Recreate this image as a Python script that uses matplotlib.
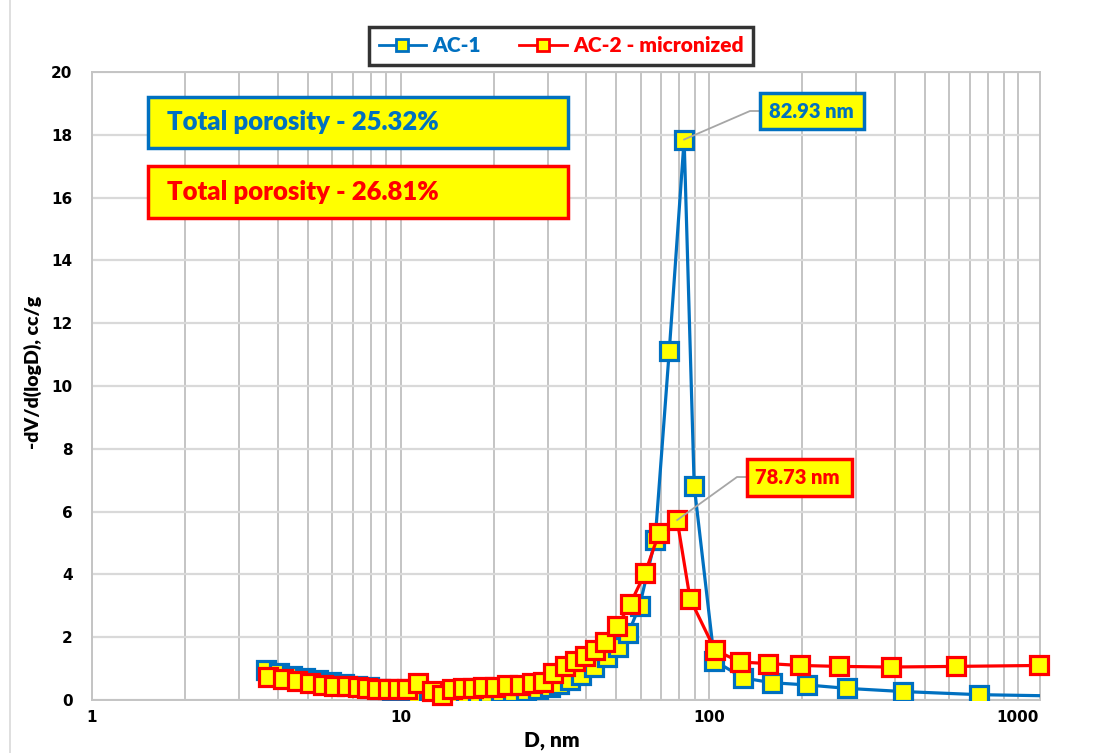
import matplotlib
matplotlib.use("Agg")
import matplotlib.pyplot as plt
from matplotlib.patches import Rectangle
from matplotlib.lines import Line2D
from matplotlib.ticker import FixedLocator, NullFormatter, LogLocator

# ---------------- data ----------------
ac1_d = [3.67, 4.05, 4.45, 4.9, 5.4, 5.95, 6.55, 7.2, 7.9, 8.6, 9.4, 10.3, 11.3, 12.4,
         13.6, 14.9, 16.3, 17.8, 19.4, 21.2, 23.2, 25.4, 27.8, 30.4, 32.5, 35.4, 38.5,
         42.2, 46.6, 50.7, 54.7, 59.5, 66.8, 74.2, 82.93, 89.4, 104, 129, 160, 207, 280,
         423, 747, 2000]
ac1_v = [0.96, 0.85, 0.76, 0.70, 0.63, 0.56, 0.50, 0.45, 0.40, 0.35, 0.29, 0.24, 0.19, 0.15,
         0.13, 0.14, 0.16, 0.18, 0.21, 0.24, 0.27, 0.30, 0.34, 0.40, 0.50, 0.64, 0.80,
         1.05, 1.37, 1.69, 2.13, 3.0, 5.1, 11.1, 17.85, 6.82, 1.25, 0.70, 0.55, 0.48, 0.37,
         0.27, 0.17, 0.10]

ac2_d = [3.72, 4.15, 4.6, 5.1, 5.6, 6.1, 6.7, 7.25, 7.8, 8.4, 9.1, 9.8, 10.5, 11.4, 12.6,
         13.6, 14.7, 15.9, 17.1, 18.5, 20.2, 22.2, 24.3, 26.6, 28.9, 31.2, 34.1, 36.7, 39.6,
         42.6, 45.9, 50.3, 55.4, 62.0, 68.8, 78.73, 86.7, 104.4, 126, 155, 197, 264, 387,
         629, 1170]
ac2_v = [0.72, 0.66, 0.60, 0.53, 0.48, 0.45, 0.43, 0.40, 0.38, 0.36, 0.35, 0.34, 0.36, 0.55,
         0.30, 0.16, 0.36, 0.38, 0.39, 0.40, 0.42, 0.47, 0.49, 0.53, 0.58, 0.85, 1.08, 1.25,
         1.40, 1.60, 1.85, 2.35, 3.05, 4.05, 5.32, 5.73, 3.22, 1.59, 1.21, 1.16, 1.10, 1.07,
         1.05, 1.07, 1.10]

series_names = ["AC-1", "AC-2 - micronized"]
porosity_labels = ["Total porosity - 25.32%", "Total porosity - 26.81%"]
peak_labels = ["82.93 nm", "78.73 nm"]
peak_points = [(82.93, 17.85), (78.73, 5.73)]
x_ticks = [1, 10, 100, 1000]
x_ticklabels = ["1", "10", "100", "1000"]
y_ticks = [0, 2, 4, 6, 8, 10, 12, 14, 16, 18, 20]

BLUE = "#0070C0"
RED = "#FF0000"
YEL = "#FFFF00"
NARROW = ["Lato", "DejaVu Sans"]
WT = "heavy"

W, H = 1104, 753
fig = plt.figure(figsize=(W / 100, H / 100), dpi=100)
fig.patch.set_facecolor("white")


def fx(px):
    return px / W


def fy(py):
    return 1 - py / H


ax = fig.add_axes([fx(92), fy(700), fx(1040) - fx(92), fy(72) - fy(700)])
ax.set_xscale("log")
ax.set_xlim(1, 1180)
ax.set_ylim(0, 20)

ax.xaxis.set_major_locator(FixedLocator(x_ticks))
ax.set_xticklabels(x_ticklabels)
ax.xaxis.set_minor_locator(LogLocator(base=10, subs=range(2, 10)))
ax.xaxis.set_minor_formatter(NullFormatter())
ax.set_yticks(y_ticks)

ax.grid(True, which="major", axis="x", color="#C4C4C4", lw=1.4, zorder=0)
ax.grid(True, which="minor", axis="x", color="#C4C4C4", lw=1.4, zorder=0)
ax.grid(True, which="major", axis="y", color="#D9D9D9", lw=1.6, zorder=0)
ax.set_axisbelow(True)

for s in ax.spines.values():
    s.set_color("#C4C4C4")
    s.set_linewidth(1.4)

ax.tick_params(axis="both", which="both", length=0)
ax.tick_params(axis="y", pad=14)
ax.tick_params(axis="x", pad=7)
for lab in ax.get_xticklabels() + ax.get_yticklabels():
    lab.set_fontweight("bold")
    lab.set_fontsize(11)
    lab.set_family("DejaVu Sans")

ms, mew, lw = 13.5, 2.3, 2.3
ax.plot(ac1_d, ac1_v, color=BLUE, lw=lw, marker="s", ms=ms, mfc=YEL, mec=BLUE, mew=mew,
        zorder=3, clip_on=True)
ax.plot(ac2_d, ac2_v, color=RED, lw=lw, marker="s", ms=ms, mfc=YEL, mec=RED, mew=mew,
        zorder=4, clip_on=False)

fig.text(fx(552), fy(741), "D, nm", ha="center", va="center",
         fontsize=15, fontweight=WT, family=NARROW)
fig.text(fx(33), fy(372), "-dV/d(logD), cc/g", rotation=90, ha="center", va="center",
         fontsize=14, fontweight=WT, family=NARROW)

# legend
h1 = Line2D([], [], color=BLUE, lw=2, marker="s", ms=8, mfc=YEL, mec=BLUE, mew=2)
h2 = Line2D([], [], color=RED, lw=2, marker="s", ms=8, mfc=YEL, mec=RED, mew=2)
leg = fig.legend([h1, h2], series_names, loc="center",
                 bbox_to_anchor=(fx(561), fy(46)), ncol=2, frameon=True, fancybox=False,
                 prop={"family": NARROW, "weight": WT, "size": 15},
                 handlelength=2.3, handletextpad=0.3, columnspacing=1.8,
                 borderpad=0.45, borderaxespad=0)
leg.get_frame().set_edgecolor("black")
leg.get_frame().set_linewidth(2.5)
for t, c in zip(leg.get_texts(), [BLUE, RED]):
    t.set_color(c)


# boxes
def fig_box(x0, y0, x1, y1, ec, text, tx, size, family):
    r = Rectangle((fx(x0), fy(y1)), fx(x1) - fx(x0), fy(y0) - fy(y1),
                  transform=fig.transFigure, facecolor=YEL, edgecolor=ec, lw=2.5, zorder=10)
    fig.patches.append(r)
    fig.text(fx(tx), fy((y0 + y1) / 2), text, ha="left", va="center", color=ec,
             fontsize=size, fontweight=WT, family=family, zorder=11)


fig_box(148, 97, 568, 148, BLUE, porosity_labels[0], 167, 18.5, NARROW)
fig_box(148, 166, 568, 218, RED, porosity_labels[1], 167, 18.5, NARROW)

fig_box(760, 93, 864, 129, BLUE, peak_labels[0], 769, 14.5, NARROW)
fig_box(747, 459, 852, 496, RED, peak_labels[1], 755, 14.5, NARROW)

# leader lines (data point -> box)
lead_targets = [((750, 111), (760, 111)), ((737, 477), (747, 477))]
for (pd, pv), (p1, p2) in zip(peak_points, lead_targets):
    x1, y1 = ax.transData.transform((pd, pv))
    xs = [x1 / W, fx(p1[0]), fx(p2[0])]
    ys = [y1 / H, fy(p1[1]), fy(p2[1])]
    fig.lines.append(Line2D(xs, ys, transform=fig.transFigure, color="#A6A6A6", lw=1.3,
                            zorder=9))

# chart area edge
fig.lines.append(Line2D([fx(10), fx(10)], [0, 1], transform=fig.transFigure,
                        color="#D9D9D9", lw=1.2))

fig.savefig("out.png", dpi=100)
